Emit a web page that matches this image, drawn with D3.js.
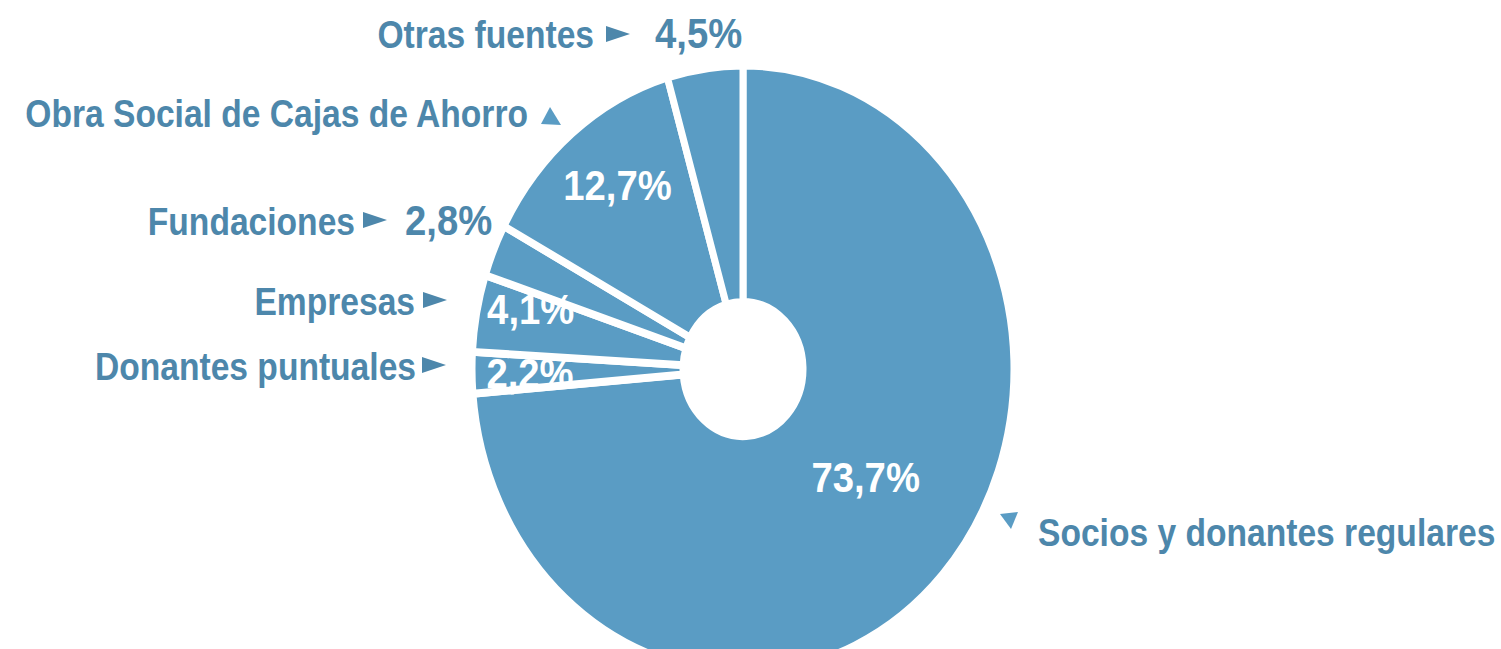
<!DOCTYPE html>
<html>
<head>
<meta charset="utf-8">
<script src="https://cdn.jsdelivr.net/npm/d3@7"></script>
<style>
  body { margin: 0; background: #fff; }
  text { font-family: "Liberation Sans", Arial, sans-serif; font-weight: bold; }
</style>
</head>
<body>
<div id="chart-area"></div>
<script>
// fuentes de financiacion (%)
const categories = ["Socios y donantes regulares", "Donantes puntuales", "Empresas",
                    "Fundaciones", "Obra Social de Cajas de Ahorro", "Otras fuentes"];
const values = [73.7, 2.2, 4.1, 2.8, 12.7, 4.5];

const width = 1501, height = 649;
const cx = 743, cy = 369;
const sy = 1.12;   // the picture is a bit taller than wide
// squeeze bold text to get a condensed look
const nameScale = "scale(0.84,0.97)";
const pctScale = "scale(0.87,0.98)";

const fill = "#5a9cc4";
const labelColor = "#4d87ab";

const es = d3.formatLocale({decimal: ",", thousands: ".", grouping: [3], currency: ["", "€"]});
const pct = d => es.format(".1f")(d) + "%";

let svg = d3.select("#chart-area")
            .append("svg")
            .attr("width", width)
            .attr("height", height);

let pie = d3.pie().sort(null).value(d => d);
let arcs = pie(values);

let arc = d3.arc().innerRadius(60).outerRadius(271);

let g = svg.append("g")
           .attr("transform", "translate(" + cx + "," + cy + ") scale(1," + sy + ")");

g.selectAll("path")
 .data(arcs)
 .enter()
 .append("path")
 .attr("d", arc)
 .attr("fill", fill)
 .attr("stroke", "#fff")
 .attr("stroke-width", 7)
 .attr("stroke-linejoin", "miter");

// value labels inside the ring (radius of label per slice + nudge)
let inside = [
    {i: 0, r: 160, dx: 5, dy: -14},
    {i: 1, r: 213, dx: 0, dy: 0},
    {i: 2, r: 218, dx: 2, dy: -16},
    {i: 4, r: 207, dx: 5, dy: -5}
];

inside.forEach(function(l){
    let a = arcs[l.i];
    let c = d3.arc().innerRadius(l.r).outerRadius(l.r).centroid(a);
    svg.append("text")
       .attr("transform", "translate(" + (cx + c[0] + l.dx) + "," + (cy + c[1] * sy + l.dy) + ") " + pctScale)
       .attr("text-anchor", "middle")
       .attr("dy", "0.36em")
       .attr("fill", "#fff")
       .attr("font-size", 44)
       .text(pct(values[l.i]));
});

// outside labels, placed by hand like the original
let outside = [
    {i: 5, x: 594, y: 48, arrow: "right", ax: 618, ay: 34, value: true, vx: 655},
    {i: 4, x: 528, y: 127, arrow: "up", ax: 551, ay: 117, value: false},
    {i: 3, x: 355, y: 235, arrow: "right", ax: 375, ay: 220, value: true, vx: 405},
    {i: 2, x: 415, y: 315, arrow: "right", ax: 435, ay: 300, value: false},
    {i: 1, x: 416, y: 380, arrow: "right", ax: 434, ay: 365, value: false},
    {i: 0, x: 1038, y: 546, arrow: "down", ax: 1009, ay: 520, value: false, start: true}
];

let tri = {
    right: "M-12,-8L12,0L-12,8Z",
    up: "M-1,-10L10,8L-10,7Z",
    down: "M-9,-6L9,-8L2,9Z"
};

outside.forEach(function(l){
    svg.append("text")
       .attr("transform", "translate(" + l.x + "," + l.y + ") " + nameScale)
       .attr("text-anchor", l.start ? "start" : "end")
       .attr("fill", labelColor)
       .attr("font-size", 40)
       .text(categories[l.i]);

    svg.append("path")
       .attr("transform", "translate(" + l.ax + "," + l.ay + ")")
       .attr("d", tri[l.arrow])
       .attr("fill", l.arrow == "right" ? labelColor : fill);

    if (l.value) {
        svg.append("text")
           .attr("transform", "translate(" + l.vx + "," + l.y + ") " + pctScale)
           .attr("fill", labelColor)
           .attr("font-size", 44)
           .text(pct(values[l.i]));
    }
});
</script>
</body>
</html>
